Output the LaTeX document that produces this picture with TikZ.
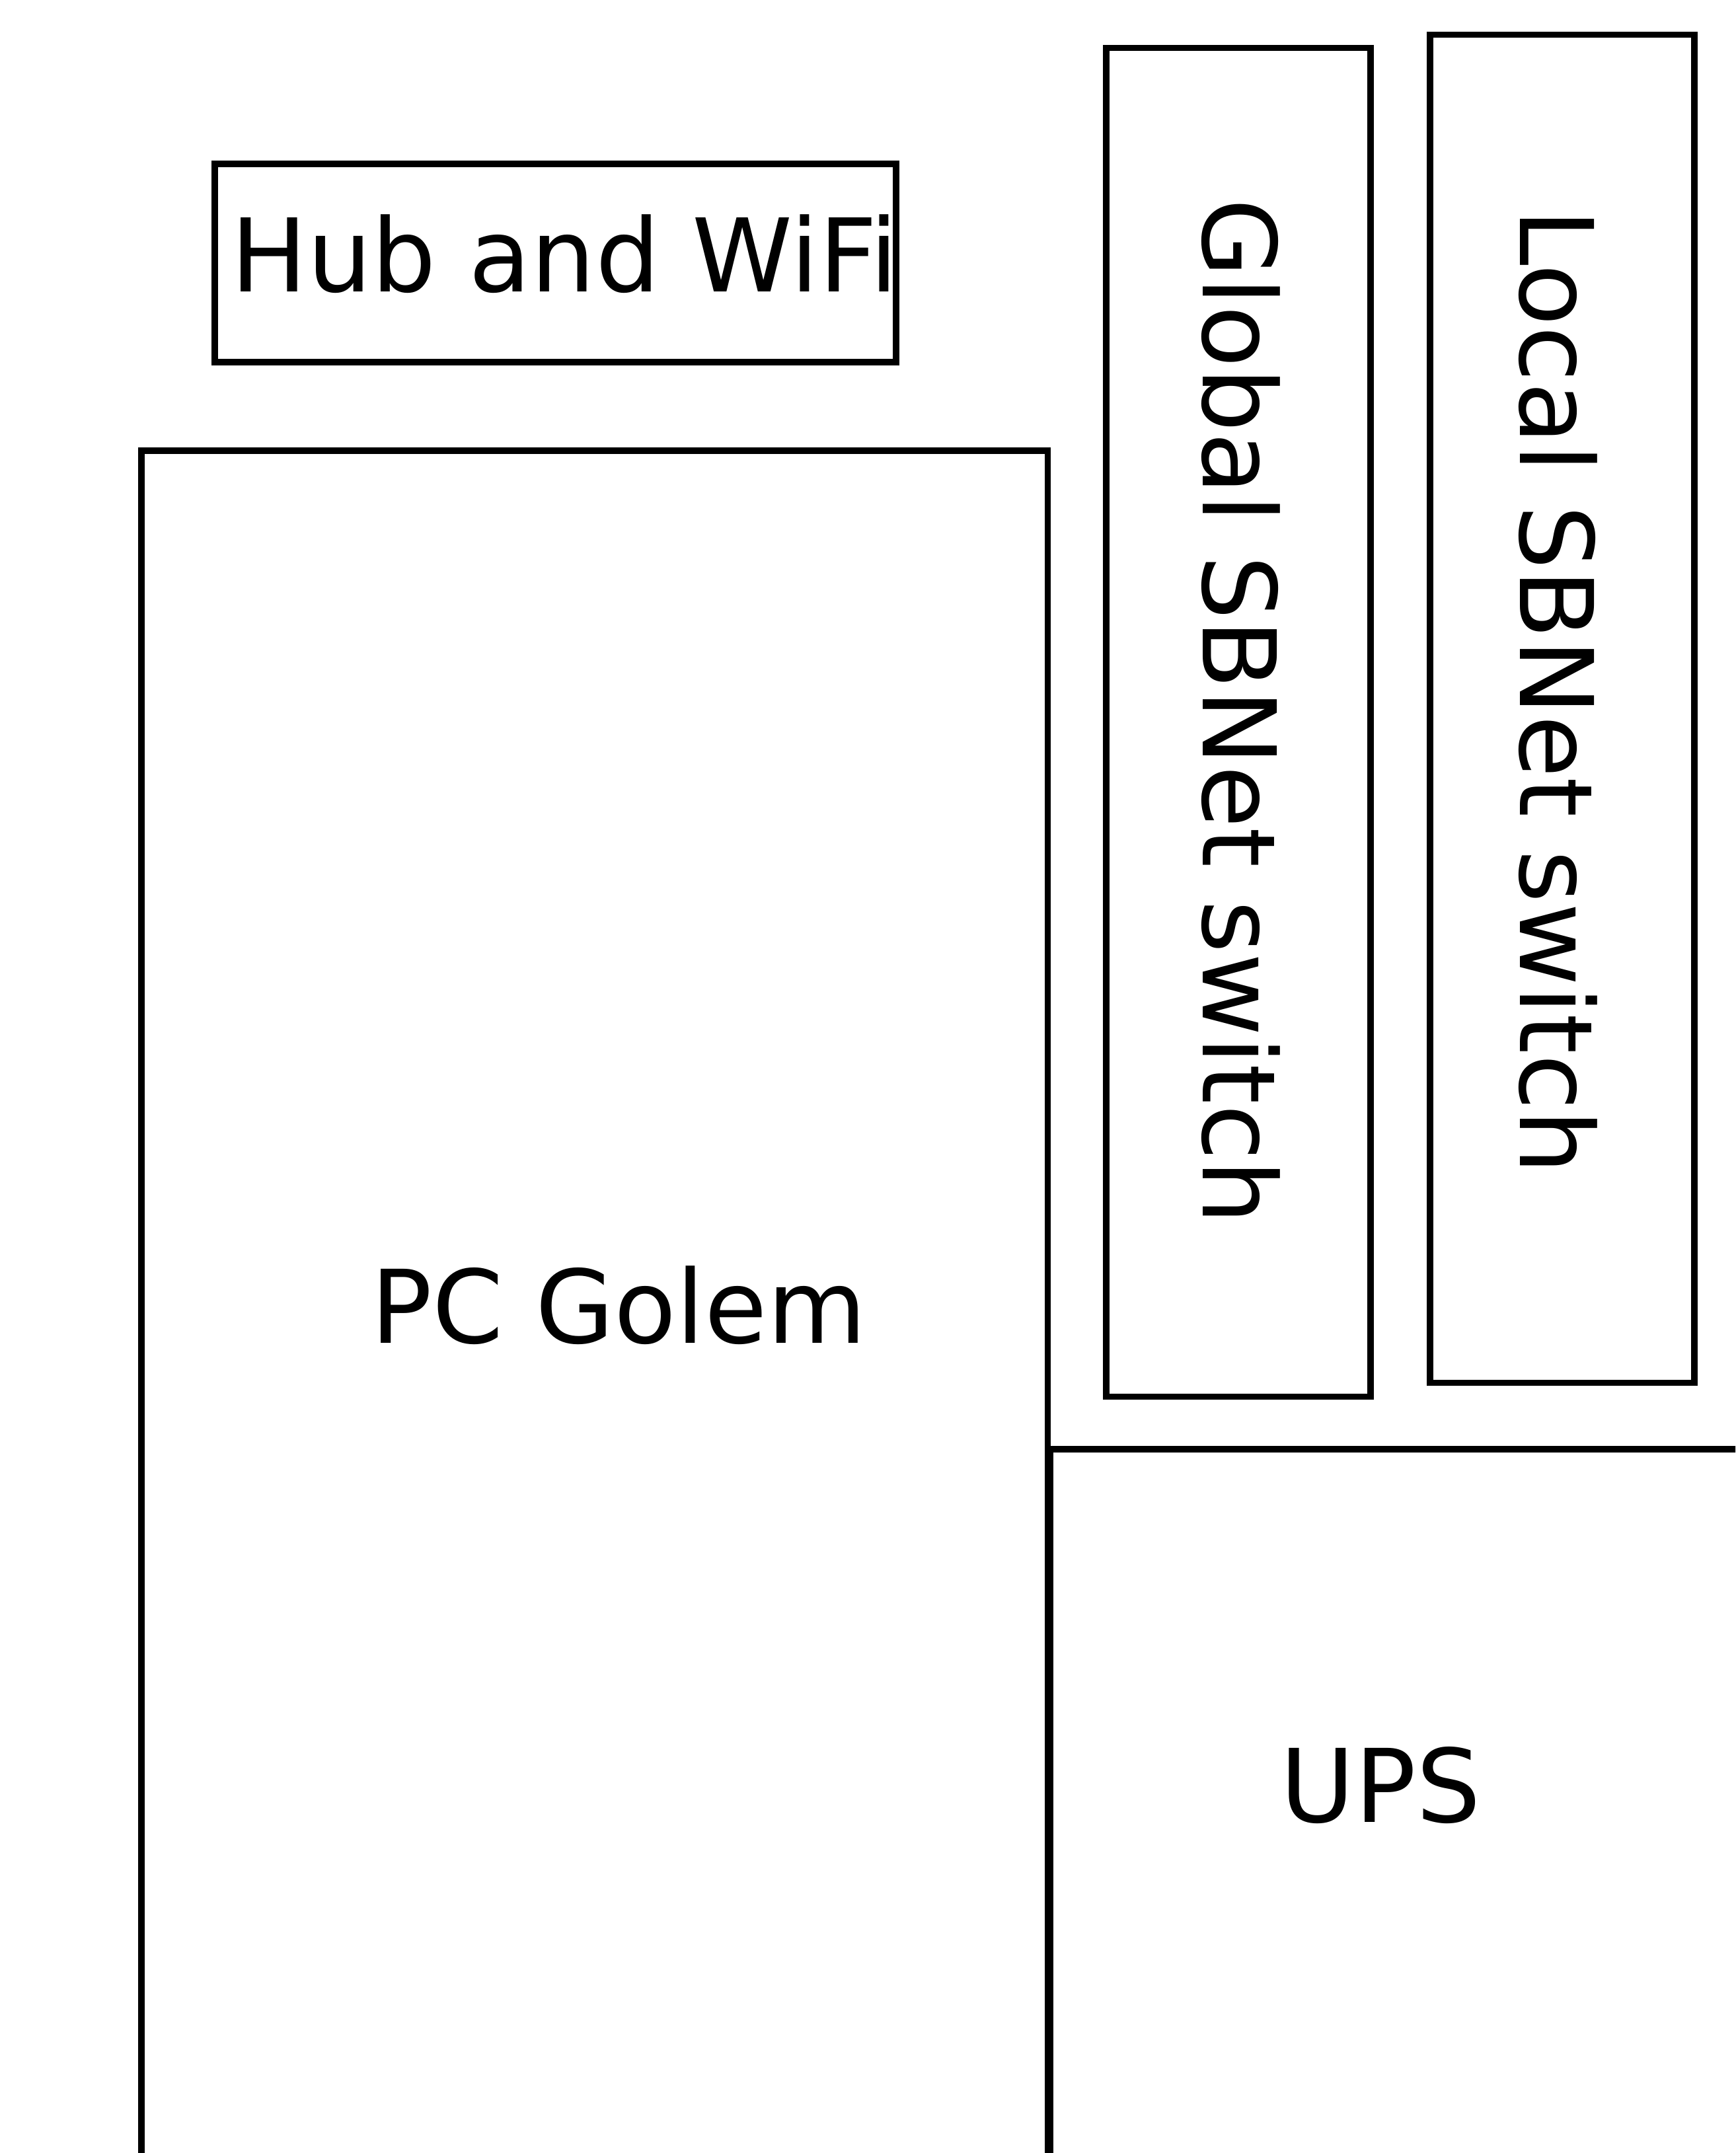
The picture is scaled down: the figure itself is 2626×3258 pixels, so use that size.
\documentclass[tikz,border=0pt]{standalone}
\usepackage{fontspec}
\setmainfont{DejaVu Sans}
\begin{document}
\begin{tikzpicture}[x=0.01cm,y=-0.01cm]
\tikzset{
  box/.style={draw=black, line width=2.76pt, inner sep=0pt, rectangle},
  lbl/.style={inner sep=0pt, font=\fontsize{43.73pt}{52pt}\selectfont}
}
\useasboundingbox (0,0) rectangle (2626,3258);
\fill[white] (0,0) rectangle (2626,3258);
\clip (0,0) rectangle (2626,3258);
% boxes
\node[box, minimum width=10.305cm, minimum height=3.0cm] (hub) at (840.25,398) {};
\node[box, minimum width=13.705cm, minimum height=27.173cm] (pc) at (899.75,2041.35) {};
\node[box, minimum width=4cm, minimum height=20.4cm] (global) at (1874,1093) {};
\node[box, minimum width=4cm, minimum height=20.39cm] (local) at (2364,1072.5) {};
\node[box, minimum width=11.11cm, minimum height=12.07cm] (ups) at (2144.5,2796.5) {};
% labels
\node[lbl, anchor=base west] (hubtext) at (349,442) {Hub and WiFi};
\node[lbl, anchor=base west] (pctext) at (561,2032) {PC Golem};
\node[lbl, anchor=base west, rotate=-90] (globaltext) at (1820,300) {Global SBNet switch};
\node[lbl, anchor=base west, rotate=-90] (localtext) at (2300,316) {Local SBNet switch};
\node[lbl, anchor=base west] (upstext) at (1937,2757) {UPS};
\end{tikzpicture}
\end{document}
